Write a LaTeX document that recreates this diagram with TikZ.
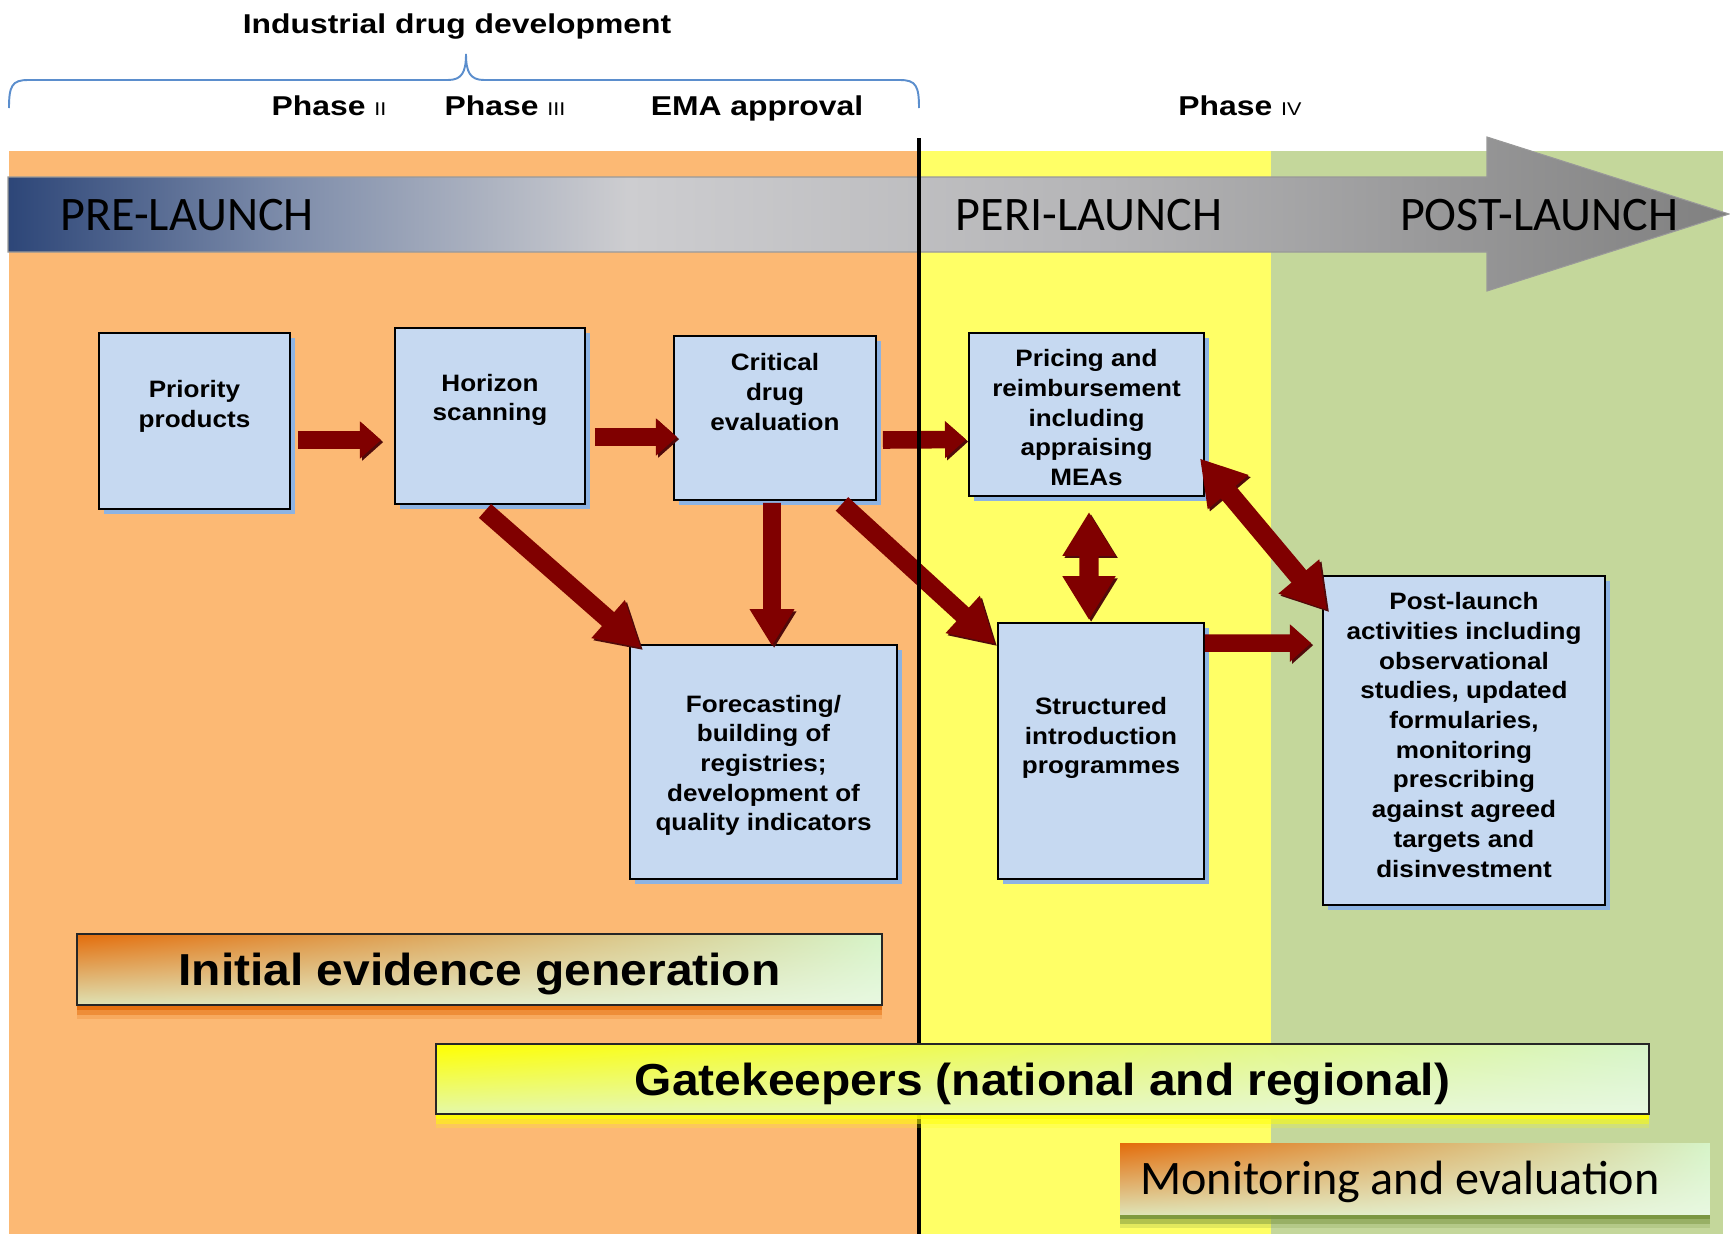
\documentclass[tikz,border=0pt]{standalone}
\usepackage{fontspec}
\setmainfont{Liberation Sans}
\newfontfamily\boxfont[FakeStretch=1.1]{Liberation Sans}
\newfontfamily\headfont[FakeStretch=1.17]{Liberation Sans}
\newfontfamily\banfont[FakeStretch=1.07]{Liberation Sans}
\newfontfamily\calfont{Carlito}
\usetikzlibrary{arrows.meta,shadows,shadings}
\newcommand\tpad[1]{\rule[-#1]{0pt}{#1}}
\newcommand\upad[1]{\rule{0pt}{#1}}
\definecolor{bgorange}{RGB}{252,185,116}
\definecolor{bgyellow}{RGB}{255,255,102}
\definecolor{bggreen}{RGB}{196,215,155}
\definecolor{boxblue}{RGB}{198,217,241}
\definecolor{boxshadow}{RGB}{141,179,226}
\definecolor{arrred}{RGB}{128,0,0}
\definecolor{arrshadow}{RGB}{80,10,10}
\definecolor{bracketblue}{RGB}{91,142,205}
\definecolor{barnavy}{RGB}{45,70,120}
\definecolor{barblue}{RGB}{125,140,170}
\definecolor{barlight}{RGB}{205,205,208}
\definecolor{barmid}{RGB}{180,180,182}
\definecolor{bargray}{RGB}{128,128,128}
\definecolor{banorange}{RGB}{228,108,10}
\definecolor{banyellow}{RGB}{255,255,0}
\definecolor{bangreen}{RGB}{214,244,200}
\definecolor{banlight}{RGB}{232,248,225}
\definecolor{banlowo}{RGB}{222,226,180}
\definecolor{banlowy}{RGB}{228,248,170}
\definecolor{glowolive}{RGB}{119,147,60}
\pgfdeclarehorizontalshading{barshade}{100bp}{color(0bp)=(barnavy); color(25bp)=(barnavy);
  color(33bp)=(barblue); color(43bp)=(barlight); color(57bp)=(barmid); color(75bp)=(bargray); color(100bp)=(bargray)}
\begin{document}
\begin{tikzpicture}[x=0.02cm,y=-0.02cm,
  box/.style={draw=black, line width=1.1pt, fill=boxblue, align=center, inner sep=0pt,
    font=\boxfont\bfseries\fontsize{13.5}{16.9}\selectfont,
    drop shadow={shadow xshift=3pt, shadow yshift=-3pt, fill=boxshadow, opacity=1}},
  arrowbase/.style={draw=arrred, preaction={draw=arrshadow, transform canvas={shift={(1.2pt,-1.2pt)}}}},
  harr/.style={arrowbase, line width=10pt, -{Triangle[length=12pt,width=20.5pt]}},
  varr/.style={arrowbase, line width=10pt, -{Triangle[length=21pt,width=24pt]}},
  darr/.style={arrowbase, line width=10.5pt, -{Triangle[length=25pt,width=27pt]}},
  dblarr/.style={arrowbase, line width=11pt, {Triangle[length=25pt,width=28.5pt]}-{Triangle[length=25pt,width=28.5pt]}},
  bartext/.style={inner sep=0pt, text depth=0pt, font=\calfont\fontsize{27.4}{27.4}\selectfont},
  head/.style={inner sep=0pt, text depth=0pt, font=\headfont\bfseries\fontsize{15.5}{15.5}\selectfont},
  banner/.style={draw=black!85, line width=1pt, shade, inner sep=0pt,
    font=\banfont\bfseries\fontsize{25.5}{25.5}\selectfont},
  glow/.style={general shadow={fill=#1, opacity=.2, shadow yshift=-8pt},
    general shadow={fill=#1, opacity=.45, shadow yshift=-5.5pt},
    general shadow={fill=#1, opacity=.85, shadow yshift=-3pt}}
]
\newcommand\numr[1]{{\headfont\mdseries\fontsize{10.5}{10.5}\selectfont #1}}
\useasboundingbox (0,0) rectangle (1730,1234);
\fill[white] (0,0) rectangle (1730,1234);

% background bands
\fill[bgorange] (9,151) rectangle (919,1234);
\fill[bgyellow] (919,151) rectangle (1271,1234);
\fill[bggreen] (1271,151) rectangle (1723,1234);

% header
\node[head] (idd) at (457,24) {Industrial drug development};
\draw[bracketblue, line width=1.1pt] (9,108) .. controls (9,86) and (12,80) .. (28,80) -- (448,80)
  .. controls (462,80) and (466,72) .. (466,54) .. controls (466,72) and (470,80) .. (484,80)
  -- (900,80) .. controls (916,80) and (919,86) .. (919,108);
\node[head] (ph2) at (329,106) {Phase \numr{II}};
\node[head] (ph3) at (505,106) {Phase \numr{III}};
\node[head] (ema) at (757,106) {EMA approval};
\node[head] (ph4) at (1240,106) {Phase \numr{IV}};

% big timeline arrow
\shade[shading=barshade, draw=gray!80, line width=0.6pt]
  (8,177) -- (1487,177) -- (1487,137) -- (1729,214) -- (1487,291) -- (1487,252) -- (8,252) -- cycle;
\node[bartext] (pre) at (187,215) {PRE-LAUNCH};
\node[bartext] (peri) at (1089,215) {PERI-LAUNCH};
\node[bartext] (post) at (1539,215) {POST-LAUNCH};

% boxes
\node[box, minimum width=3.82cm, minimum height=3.52cm] (pp) at (194.5,421)
  {Priority\\products\tpad{19.6pt}};
\node[box, minimum width=3.80cm, minimum height=3.52cm] (hs) at (490,416)
  {Horizon\\scanning\tpad{21pt}};
\node[box, minimum width=4.04cm, minimum height=3.28cm] (cde) at (775,418)
  {Critical\\drug\\evaluation\tpad{29.9pt}};
\node[box, minimum width=4.70cm, minimum height=3.26cm] (pr) at (1086.5,414.5)
  {\upad{13.3pt}Pricing and\\reimbursement\\including\\appraising\\MEAs};
\node[box, minimum width=5.34cm, minimum height=4.68cm] (fc) at (763.5,762)
  {\upad{13.5pt}Forecasting/\\building of\\registries;\\development of\\quality indicators};
\node[box, minimum width=4.12cm, minimum height=5.12cm] (sip) at (1101,751)
  {Structured\\introduction\\programmes\tpad{17.5pt}};
\node[box, minimum width=5.64cm, minimum height=6.58cm] (pl) at (1464,740.5)
  {Post-launch\\activities including\\observational\\studies, updated\\formularies,\\monitoring\\prescribing\\against agreed\\targets and\\disinvestment\tpad{6.5pt}};

% connectors
\draw[harr] ([shift={(7,19)}]pp.east) -- ([shift={(-13,24)}]hs.west);
\draw[harr] ([shift={(9,21)}]hs.east) -- ([shift={(4,19)}]cde.west);
\draw[harr] ([shift={(6,22)}]cde.east) -- ([shift={(-2,25)}]pr.west);
\draw[darr] ([shift={(-5,6)}]hs.south) -- ([shift={(12,4)}]fc.north west);
\draw[varr] ([shift={(-3,2)}]cde.south) -- ([shift={(8.5,2)}]fc.north);
\draw[darr] ([shift={(-35,3)}]cde.south east) -- ([shift={(-2,22)}]sip.north west);
\draw[dblarr] ([shift={(2.5,15)}]pr.south) -- ([shift={(-12,-2)}]sip.north);
\draw[dblarr] ([shift={(-5,44)}]pr.east) -- ([shift={(5,35)}]pl.north west);
\draw[harr] ([shift={(0,21)}]sip.north east) -- ([shift={(-11,68)}]pl.north west);

% divider line
\coordinate (divtop) at (919,138);
\coordinate (divbot) at (919,1234);
\draw[line width=2.2pt] (divtop) -- (divbot);

% banners
\node[banner, glow=banorange, upper left=banorange, upper right=bangreen,
  lower left=banlowo, lower right=banlight, minimum width=16.10cm, minimum height=1.42cm] (ieg)
  at (479.5,969.5) {\upad{0.93em}Initial evidence generation};
\node[banner, glow=banyellow, upper left=banyellow, upper right=bangreen,
  lower left=banlowy, lower right=banlight, minimum width=24.26cm, minimum height=1.40cm] (gk)
  at (1042.5,1079) {\upad{0.93em}Gatekeepers (national and regional)};
\node[banner, draw=none, glow=glowolive, upper left=banorange, upper right=bangreen,
  lower left=banlowo, lower right=banlight,
  font=\calfont\fontsize{27.4}{27.4}\selectfont, minimum width=11.80cm, minimum height=1.42cm] (me)
  at (1415,1178.5) {\upad{0.83em}Monitoring and evaluation\kern17pt};
\end{tikzpicture}
\end{document}
